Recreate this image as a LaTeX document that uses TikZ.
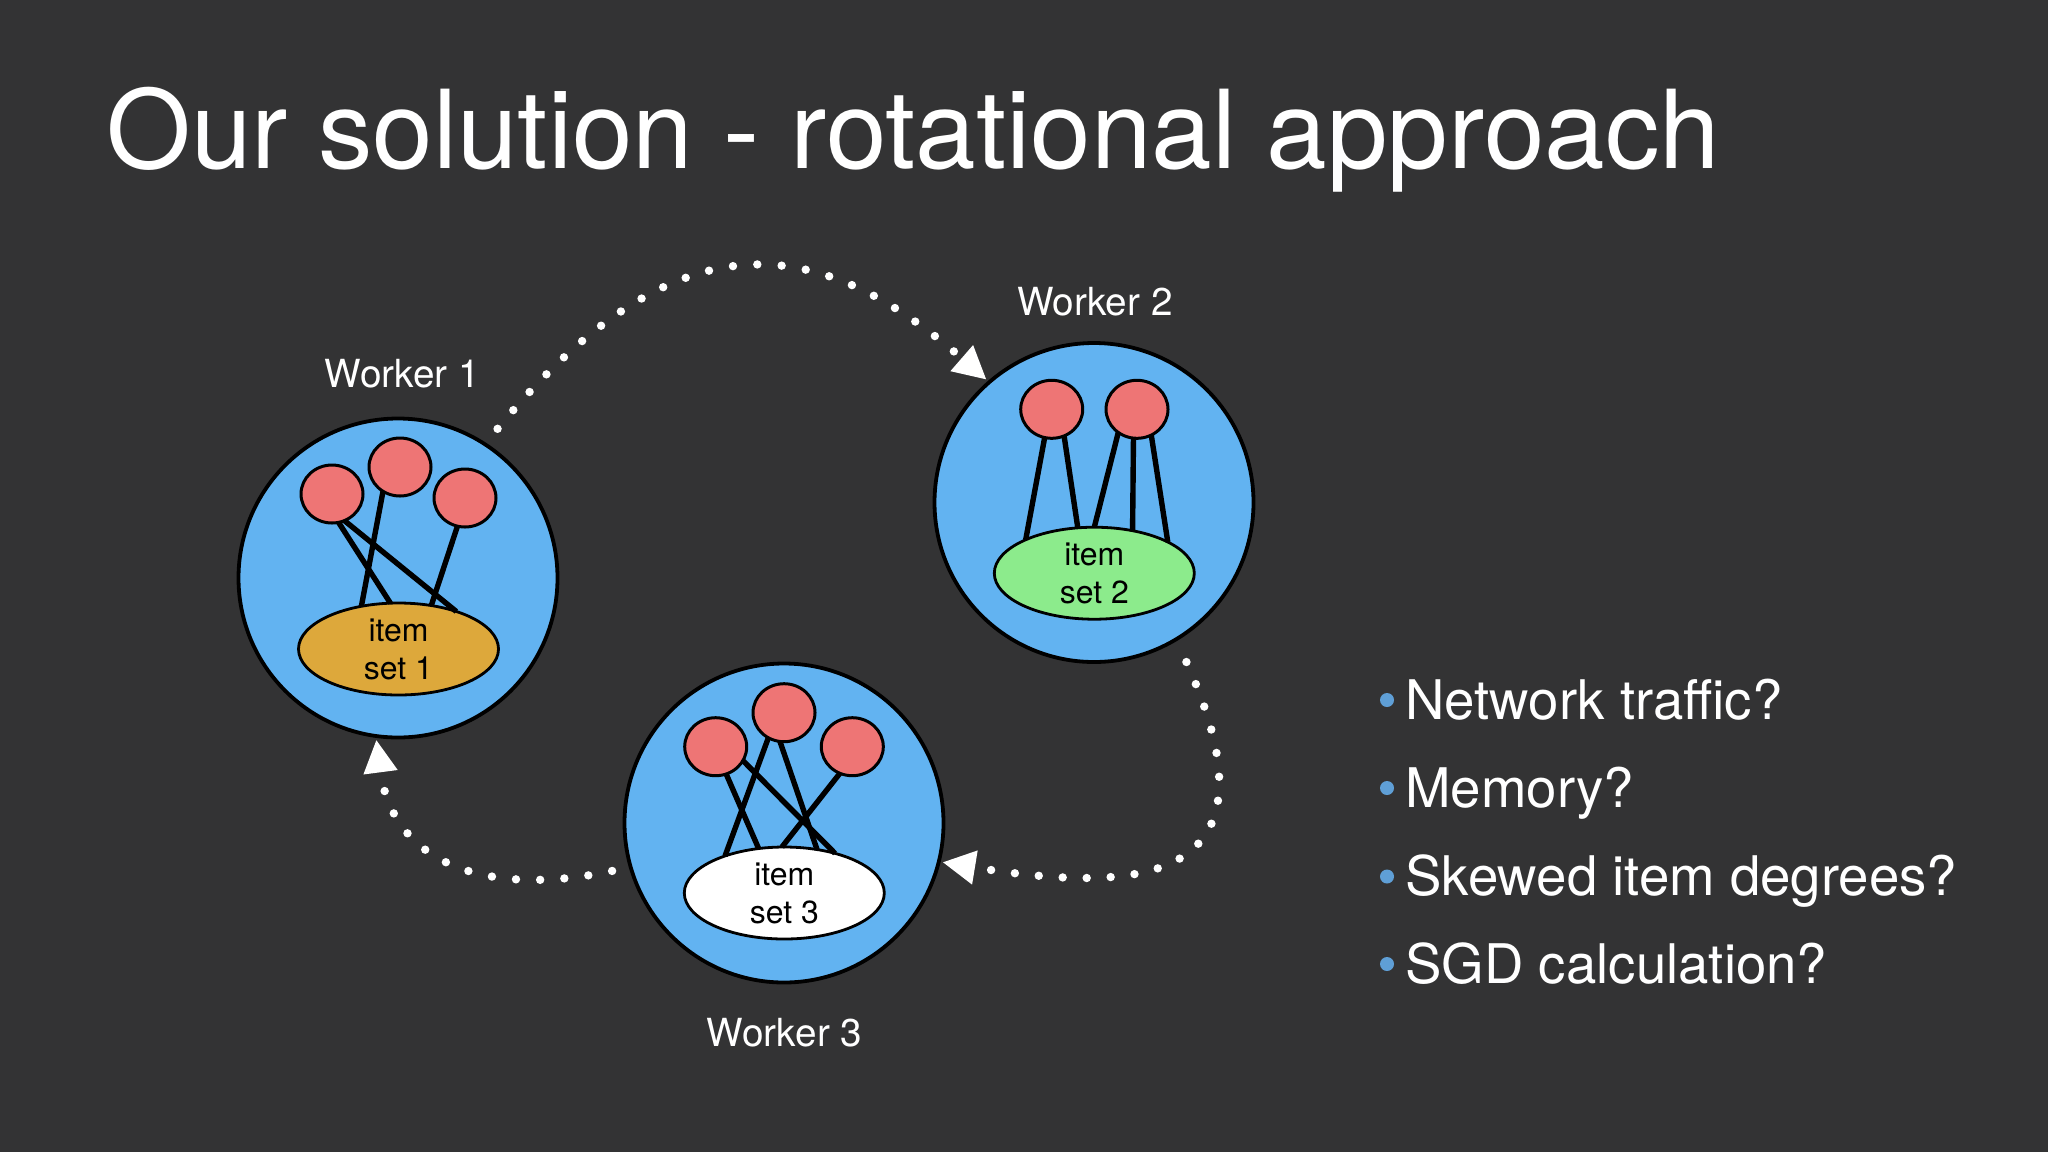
\documentclass[tikz,border=0pt]{standalone}
\usepackage{fontspec}
\setmainfont{TeX Gyre Heros}
\usetikzlibrary{shapes.geometric, arrows.meta}

\definecolor{slidegray}{HTML}{333334}
\definecolor{workerblue}{HTML}{62B3F1}
\definecolor{ballred}{HTML}{EE7575}
\definecolor{setgold}{HTML}{DDA83B}
\definecolor{setgreen}{HTML}{8CEB8C}
\definecolor{bulletblue}{HTML}{5F9FD6}

\tikzset{
  worker/.style = {circle, draw = black, fill = workerblue, line width = 1.9pt,
    minimum size = 159.5pt, inner sep = 0pt, outer sep = 0pt},
  ball/.style = {ellipse, draw = black, fill = ballred, line width = 1.5pt,
    minimum width = 31pt, minimum height = 29pt, inner sep = 0pt, outer sep = 0pt},
  itemset/.style = {ellipse, draw = black, line width = 1.4pt, text = black,
    minimum width = 100pt, minimum height = 46pt, inner sep = 0pt, outer sep = 0pt,
    align = center, font = \fontsize{16}{19}\selectfont},
  link/.style = {black, line width = 2.7pt},
  rotation/.style = {white, line width = 4.2pt, line cap = round,
    dash pattern = on 0pt off #1, shorten > = 1.8pt,
    -{Triangle[length = 16.5pt, width = 16pt]}},
  heading/.style = {anchor = base west, inner sep = 0pt, text = white,
    font = \fontsize{54.45}{60}\selectfont},
  workername/.style = {anchor = base, inner sep = 0pt, text = white,
    font = \fontsize{19.35}{23}\selectfont},
  bullet/.style = {circle, fill = bulletblue, minimum size = 7pt, inner sep = 0pt},
  question/.style = {anchor = base west, inner sep = 0pt, text = white,
    font = \fontsize{27.3}{32}\selectfont}
}

\begin{document}
\begin{tikzpicture}[x = 0.5pt, y = -0.5pt]

  \useasboundingbox (0, 0) rectangle (2048, 1152);
  \fill[slidegray] (0, 0) rectangle (2048, 1152);

  \node[heading] (title) at (106, 168.5) {Our solution - rotational approach};

  \node[worker] (w1) at (398, 578) {};
  \node[worker] (w2) at (1094, 502.5) {};
  \node[worker] (w3) at (784, 823) {};

  \node[workername] (name1) at (402.5, 387) {Worker 1};
  \node[workername] (name2) at (1095, 315) {Worker 2};
  \node[workername] (name3) at (784.5, 1046) {Worker 3};

  \node[ball] (a1) at (332, 494) {};
  \node[ball] (a2) at (400, 467) {};
  \node[ball] (a3) at (465, 498) {};
  \node[itemset, fill = setgold] (set1) at (398.5, 649) {item\\set 1};

  \draw[link] (a1.-77) -- (set1.100.5);
  \draw[link] (a1.-65) -- (set1.33.9);
  \draw[link] (a2.-125) -- (set1.131.7);
  \draw[link] (a3.-105.5) -- (set1.53.7);

  \node[ball] (b1) at (1051.7, 409.3) {};
  \node[ball] (b2) at (1137, 409.3) {};
  \node[itemset, fill = setgreen] (set2) at (1094.3, 573.2) {item\\set 2};

  \draw[link] (b1.-104.3) -- (set2.154);
  \draw[link] (b1.-65.3) -- (set2.110.7);
  \draw[link] (b2.-129.7) -- (set2.90);
  \draw[link] (b2.-97.4) -- (set2.48.7);
  \draw[link] (b2.-61.2) -- (set2.23.3);

  \node[ball] (c1) at (715.7, 746.7) {};
  \node[ball] (c2) at (784, 712.7) {};
  \node[ball] (c3) at (852.3, 746.7) {};
  \node[itemset, fill = white] (set3) at (784.3, 893) {item\\set 3};

  \draw[link] (c1.-69.4) -- (set3.120.8);
  \draw[link] (c1.-27.9) -- (set3.38.7);
  \draw[link] (c2.-122.3) -- (set3.148.8);
  \draw[link] (c2.-98.4) -- (set3.53.7);
  \draw[link] (c3.-115.5) -- (set3.93.3);

  \draw[rotation = 12.2pt, shorten < = 10pt] (w1.57.5)
    .. controls (684, 202) and (827, 241) .. (w2.131);
  \draw[rotation = 12pt, shorten < = 12.5pt] (w2.-59)
    .. controls (1286, 883) and (1143, 895) .. (w3.-14);
  \draw[rotation = 12.1pt, shorten < = 9.5pt] (w3.196)
    .. controls (481, 899) and (392, 860) .. (w1.-98);

  \node[bullet] (dot1) at (1387, 700) {};
  \node[bullet] (dot2) at (1387, 788) {};
  \node[bullet] (dot3) at (1387, 876.5) {};
  \node[bullet] (dot4) at (1387, 964) {};

  \node[question] (q1) at (1405, 719) {Network traffic?};
  \node[question] (q2) at (1405, 807.5) {Memory?};
  \node[question] (q3) at (1405, 895.5) {Skewed item degrees?};
  \node[question] (q4) at (1405, 983.5) {SGD calculation?};

\end{tikzpicture}
\end{document}
